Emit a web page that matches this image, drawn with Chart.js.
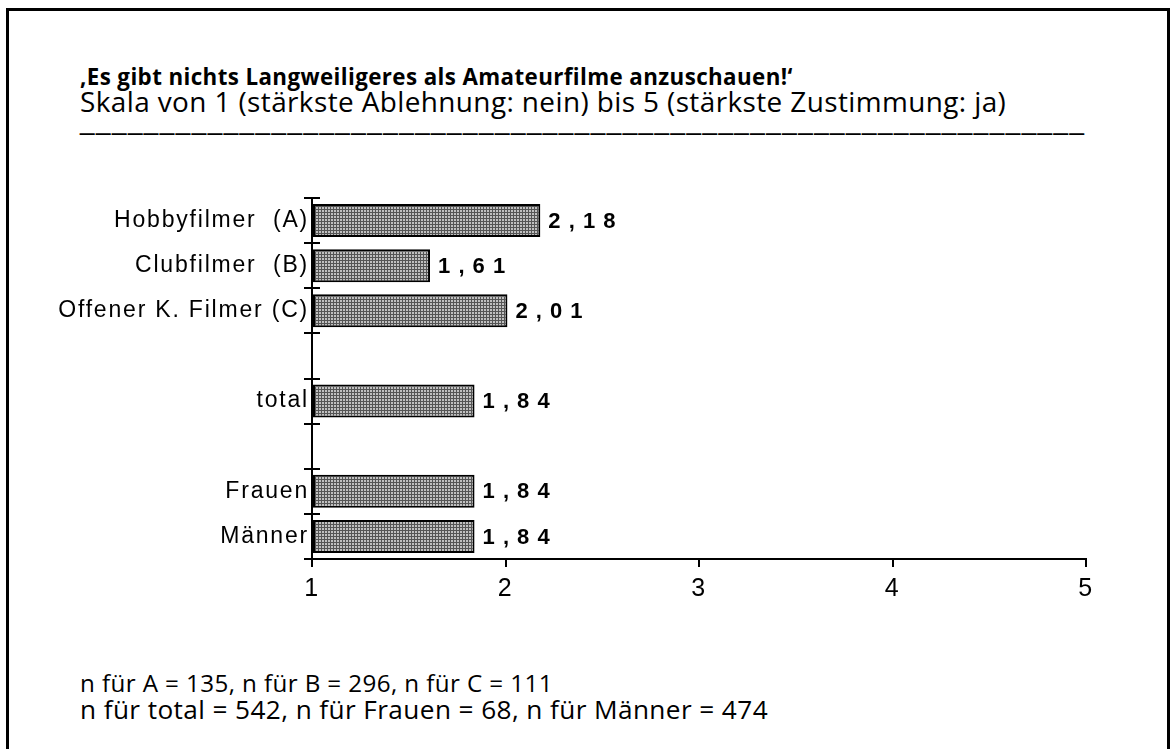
<!DOCTYPE html>
<html>
<head>
<meta charset="utf-8">
<script src="https://cdn.jsdelivr.net/npm/chart.js@4.4.1/dist/chart.umd.min.js"></script>
<style>
  html, body { margin: 0; padding: 0; background: #fff; }
  body { width: 1171px; height: 749px; position: relative; overflow: hidden; }
  #frame { position: absolute; left: 6px; top: 8px; width: 1164px; height: 760px; border: 3px solid #000; box-sizing: border-box; }
  .txt { position: absolute; left: 80px; white-space: nowrap; color: #000; font-family: "Open Sans", Lato, sans-serif; line-height: 1; letter-spacing: 0.4px; }
  #title { top: 67px; font-size: 20px; font-weight: bold; }
  #subtitle { top: 90px; font-size: 21px; }
  #rule { top: 108px; font-family: "Liberation Sans", Arial, sans-serif; font-size: 26px; letter-spacing: 1.5px; }
  #foot1 { top: 673px; font-size: 20px; }
  #foot2 { top: 699px; font-size: 20px; }
  #wrap { position: absolute; left: 0; top: 170px; width: 1171px; height: 450px; }
</style>
</head>
<body>
<div id="frame"></div>
<div class="txt" id="title" data-w="713" data-cy="78">‚Es gibt nichts Langweiligeres als Amateurfilme anzuschauen!‘</div>
<div class="txt" id="subtitle" data-w="926" data-cy="103">Skala von 1 (stärkste Ablehnung: nein) bis 5 (stärkste Zustimmung: ja)</div>
<div class="txt" id="rule"></div>
<div class="txt" id="foot1" data-w="473" data-cy="684">n für A = 135, n für B = 296, n für C = 111</div>
<div class="txt" id="foot2" data-w="688" data-cy="710">n für total = 542, n für Frauen = 68, n für Männer = 474</div>
<div id="wrap"><canvas id="c" width="1171" height="450"></canvas></div>
<script>
const categories = ['Hobbyfilmer  (A)', 'Clubfilmer  (B)', 'Offener K. Filmer (C)', '', 'total', '', 'Frauen', 'Männer'];
const values = [2.18, 1.61, 2.01, null, 1.84, null, 1.84, 1.84];
const xTicks = [1, 2, 3, 4, 5];

document.getElementById('rule').textContent = '_'.repeat(63);

// size header/footer text to the reference widths, centred on the reference line positions
document.querySelectorAll('.txt[data-w]').forEach(el => {
  const target = +el.dataset.w;
  let nfs = parseFloat(getComputedStyle(el).fontSize);
  for (let k = 0; k < 3; k++) {
    const w = el.getBoundingClientRect().width;
    nfs = nfs * target / w;
    el.style.fontSize = nfs.toFixed(2) + 'px';
  }
  el.style.top = (+el.dataset.cy - nfs * 0.55).toFixed(1) + 'px';
});

function makePattern() {
  const p = document.createElement('canvas');
  p.width = 3; p.height = 3;
  const g = p.getContext('2d');
  g.fillStyle = '#555555';
  g.fillRect(0, 0, 3, 3);
  g.fillStyle = '#c0c0c0';
  g.fillRect(1, 1, 2, 2);
  return g.createPattern(p, 'repeat');
}

const crossTicks = {
  id: 'crossTicks',
  afterDraw(chart) {
    const y = chart.scales.y;
    const ctx = chart.ctx;
    const n = y.ticks.length;
    const step = (y.bottom - y.top) / n;
    ctx.save();
    ctx.strokeStyle = '#000';
    ctx.lineWidth = 2;
    for (let i = 0; i <= n; i++) {
      const py = Math.round(y.top + i * step);
      ctx.beginPath();
      ctx.moveTo(y.right - 8, py);
      ctx.lineTo(y.right + 8, py);
      ctx.stroke();
    }
    ctx.restore();
  }
};

const spacing = {
  id: 'spacing',
  beforeDraw(chart) { chart.ctx.letterSpacing = '1.8px'; },
  afterDraw(chart) { chart.ctx.letterSpacing = '0px'; }
};

const valueLabels = {
  id: 'valueLabels',
  afterDatasetsDraw(chart) {
    const ctx = chart.ctx;
    const meta = chart.getDatasetMeta(0);
    ctx.save();
    ctx.letterSpacing = '1px';
    ctx.fillStyle = '#000';
    ctx.font = 'bold 22px "Liberation Sans", Arial, sans-serif';
    ctx.textAlign = 'left';
    ctx.textBaseline = 'middle';
    meta.data.forEach((bar, i) => {
      const v = values[i];
      if (v === null) return;
      const s = v.toFixed(2).replace('.', ',').split('').join(' ');
      ctx.fillText(s, bar.x + 8, bar.y + 1);
    });
    ctx.restore();
  }
};

new Chart(document.getElementById('c'), {
  type: 'bar',
  data: {
    labels: categories,
    datasets: [{
      data: values,
      base: 1,
      backgroundColor: makePattern(),
      borderColor: '#000',
      borderWidth: 2,
      borderSkipped: false,
      barPercentage: 0.73,
      categoryPercentage: 1
    }]
  },
  options: {
    indexAxis: 'y',
    responsive: false,
    animation: false,
    events: [],
    layout: { padding: { top: 28, right: 85, bottom: 0, left: 0 } },
    plugins: { legend: { display: false }, tooltip: { enabled: false } },
    scales: {
      x: {
        type: 'linear',
        min: 1, max: 5,
        afterBuildTicks(scale) { scale.ticks = xTicks.map(v => ({ value: v })); },
        afterFit(scale) { scale.height = 61; },
        grid: { drawOnChartArea: false, drawTicks: true, tickLength: 8, color: '#000', lineWidth: 2 },
        border: { display: true, color: '#000', width: 2 },
        ticks: { color: '#000', padding: 7, font: { family: '"Liberation Sans", Arial, sans-serif', size: 25 } }
      },
      y: {
        afterFit(scale) { scale.width = 312; },
        grid: { drawOnChartArea: false, drawTicks: false },
        border: { display: true, color: '#000', width: 2 },
        ticks: { color: '#000', padding: 3, font: { family: '"Liberation Sans", Arial, sans-serif', size: 23 } }
      }
    }
  },
  plugins: [spacing, crossTicks, valueLabels]
});
</script>
</body>
</html>
